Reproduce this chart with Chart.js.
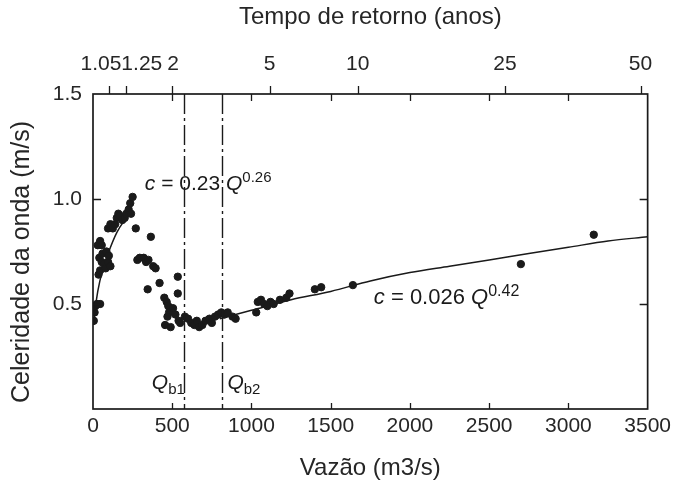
<!DOCTYPE html>
<html><head><meta charset="utf-8">
<script src="https://cdn.jsdelivr.net/npm/chart.js@4/dist/chart.umd.min.js"></script>
<style>html,body{margin:0;padding:0;background:#fff}#wrap{width:676px;height:486px}</style>
</head><body><div id="wrap"><canvas id="c" width="676" height="486"></canvas></div>
<script>
// ---- data ----
const obsQ = [5,10,15,25,45,35,45,40,55,60,70,80,95,110,30,45,55,85,100,95,110,125,140,150,160,170,185,200,210,225,240,235,250,
  270,280,295,320,335,350,365,380,395,345,420,450,455,465,475,480,470,490,505,520,535,535,540,550,
  580,600,620,640,655,670,690,710,735,750,770,790,810,830,850,880,900,
  1030,1040,1060,1080,1100,1120,1140,1180,1220,1240,1400,1440,1640,2700,3160];
const obsC = [0.42,0.46,0.49,0.50,0.50,0.64,0.66,0.72,0.70,0.74,0.69,0.67,0.70,0.68,0.78,0.80,0.78,0.75,0.73,0.86,0.88,0.86,0.88,0.91,0.93,0.92,0.90,0.91,0.93,0.95,0.93,0.98,1.01,
  0.86,0.71,0.72,0.72,0.70,0.71,0.82,0.68,0.67,0.57,0.60,0.53,0.40,0.51,0.49,0.46,0.44,0.39,0.48,0.45,0.63,0.55,0.42,0.41,
  0.44,0.43,0.41,0.40,0.42,0.39,0.40,0.42,0.43,0.41,0.44,0.45,0.46,0.45,0.46,0.44,0.43,
  0.46,0.51,0.52,0.50,0.49,0.51,0.50,0.52,0.53,0.55,0.57,0.58,0.59,0.69,0.83];
const fitLowQ = [5,15,30,60,100,150,200,230];
const fitLowC = [0.40,0.48,0.56,0.66,0.75,0.84,0.90,0.93];
const fitHighQ = [800,1000,1250,1500,1750,2000,2250,2500,2750,3000,3250,3500];
const fitHighC = [0.43,0.47,0.52,0.56,0.61,0.65,0.68,0.71,0.74,0.77,0.80,0.82];
const xTickValues = [0,500,1000,1500,2000,2500,3000,3500];
const yTickValues = [0.5,1.0,1.5];
const returnPeriodLabels = ['1.05','1.25','2','5','10','25','50'];
const returnPeriodQ = [100,210,500,1115,1670,2600,3455];      // where each return-period tick sits
const returnLabelQ  = [50,308,505,1115,1670,2600,3455];       // where its label is printed
const breakQ = [575,815];
const breakNames = ['b1','b2'];

const FONT = "'Liberation Sans', Arial, sans-serif";
const INK = '#1a1a1a';
const TXT = '#262626';

// annotation anchors (data coords)
const notes = [
  {q:327, c:1.043, size:21, parts:[{t:'c',i:1},{t:' = 0.23 '},{t:'Q',i:1},{t:'0.26',sup:1}]},
  {q:1772, c:0.50, size:22, parts:[{t:'c',i:1},{t:' = 0.026 '},{t:'Q',i:1},{t:'0.42',sup:1}]},
  {q:371, c:0.095, size:21, parts:[{t:'Q',i:1},{t:breakNames[0],sub:1}]},
  {q:848, c:0.095, size:21, parts:[{t:'Q',i:1},{t:breakNames[1],sub:1}]}
];

function drawParts(ctx, parts, x, y, base){
  let cx = x;
  parts.forEach(p=>{
    const size = (p.sup||p.sub) ? Math.round(base*0.72) : base;
    ctx.font = (p.i ? 'italic ' : '') + size + 'px ' + FONT;
    const dy = p.sup ? -8 : (p.sub ? 5 : 0);
    ctx.fillText(p.t, cx, y+dy);
    cx += ctx.measureText(p.t).width;
  });
}

const decor = {
  id:'decor',
  afterDatasetsDraw(chart){
    const {ctx, chartArea:a, scales:{x,y}} = chart;
    ctx.save();
    ctx.strokeStyle = INK;
    // break lines
    ctx.lineWidth = 1.4;
    ctx.setLineDash([20,4,3,4]);
    breakQ.forEach(q=>{
      const px = Math.round(x.getPixelForValue(q))+0.5;
      ctx.beginPath(); ctx.moveTo(px,a.top); ctx.lineTo(px,a.bottom); ctx.stroke();
    });
    ctx.setLineDash([]);
    // frame
    ctx.lineWidth = 1.7;
    ctx.strokeRect(a.left, a.top, a.right-a.left, a.bottom-a.top);
    // inward ticks
    ctx.lineWidth = 1.3;
    xTickValues.slice(1,-1).forEach(v=>{
      const px = Math.round(x.getPixelForValue(v))+0.5;
      ctx.beginPath(); ctx.moveTo(px,a.bottom); ctx.lineTo(px,a.bottom-6);
      ctx.moveTo(px,a.top); ctx.lineTo(px,a.top+7); ctx.stroke();
    });
    yTickValues.slice(0,-1).forEach(v=>{
      const py = Math.round(y.getPixelForValue(v))+0.5;
      ctx.beginPath(); ctx.moveTo(a.left,py); ctx.lineTo(a.left+8,py);
      ctx.moveTo(a.right,py); ctx.lineTo(a.right-8,py); ctx.stroke();
    });
    // return-period ticks (outward, top)
    returnPeriodQ.forEach(q=>{
      const px = Math.round(x.getPixelForValue(q))+0.5;
      ctx.beginPath(); ctx.moveTo(px,a.top); ctx.lineTo(px,a.top-8); ctx.stroke();
    });
    // text notes
    ctx.fillStyle = INK; ctx.textBaseline = 'alphabetic'; ctx.textAlign = 'left';
    notes.forEach(n=> drawParts(ctx, n.parts, x.getPixelForValue(n.q), y.getPixelForValue(n.c), n.size));
    ctx.restore();
  }
};

Chart.defaults.font.family = FONT;
Chart.defaults.color = TXT;

new Chart(document.getElementById('c'), {
  type:'scatter',
  data:{datasets:[
    {data: obsQ.map((q,i)=>({x:q,y:obsC[i]})), backgroundColor:INK, borderColor:INK, pointRadius:3.7, pointHoverRadius:3.7},
    {data: fitLowQ.map((q,i)=>({x:q,y:fitLowC[i]})), showLine:true, borderColor:INK, borderWidth:1.5, pointRadius:0, cubicInterpolationMode:'monotone'},
    {data: fitHighQ.map((q,i)=>({x:q,y:fitHighC[i]})), showLine:true, borderColor:INK, borderWidth:1.5, pointRadius:0, cubicInterpolationMode:'monotone'}
  ]},
  options:{
    responsive:false, animation:false, devicePixelRatio:1,
    layout:{padding:0},
    plugins:{legend:{display:false}, tooltip:{enabled:false}},
    scales:{
      x:{type:'linear', position:'bottom', min:0, max:3500,
        afterBuildTicks:s=>{s.ticks = xTickValues.map(v=>({value:v}));},
        afterFit:s=>{s.height = 77;},
        grid:{display:false, drawTicks:false}, border:{display:false},
        ticks:{padding:5, maxRotation:0, autoSkip:false, font:{size:21}, color:TXT, callback:v=>String(v)},
        title:{display:true, text:'Vazão (m3/s)', font:{size:24}, color:TXT, padding:{top:0,bottom:3}}
      },
      x2:{type:'linear', position:'top', min:0, max:3500,
        afterBuildTicks:s=>{s.ticks = returnLabelQ.map(v=>({value:v}));},
        afterFit:s=>{s.height = 94;},
        grid:{display:false, drawTicks:false}, border:{display:false},
        ticks:{padding:17, maxRotation:0, autoSkip:false, font:{size:21}, color:TXT,
          callback:(v,i)=>returnPeriodLabels[i]},
        title:{display:true, text:'Tempo de retorno (anos)', font:{size:24}, color:TXT, padding:{top:3,bottom:0}}
      },
      y:{type:'linear', position:'left', min:0, max:1.5,
        afterBuildTicks:s=>{s.ticks = yTickValues.map(v=>({value:v}));},
        afterFit:s=>{s.width = 93;},
        grid:{display:false, drawTicks:false}, border:{display:false},
        ticks:{padding:11, font:{size:21}, color:TXT, callback:v=>v.toFixed(1)},
        title:{display:true, text:'Celeridade da onda (m/s)   ', font:{size:25}, color:TXT, padding:{top:7,bottom:0}}
      },
      y2:{type:'linear', position:'right', min:0, max:1.5, display:true,
        afterFit:s=>{s.width = 26;},
        grid:{display:false}, border:{display:false}, ticks:{display:false}
      }
    }
  },
  plugins:[decor]
});
</script></body></html>
